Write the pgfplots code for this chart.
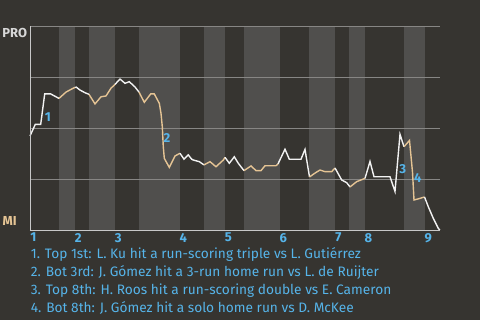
\documentclass[border=0pt]{standalone}
\usepackage{pgfplots}
\pgfplotsset{compat=1.18}
\usepackage{fontspec}
\setmainfont{Fira Sans}
\definecolor{bg}{RGB}{54,52,48}
\definecolor{band}{RGB}{80,79,77}
\definecolor{gridc}{RGB}{135,134,132}
\definecolor{axc}{RGB}{200,200,200}
\definecolor{tanl}{RGB}{229,196,148}
\definecolor{wl}{RGB}{242,242,242}
\definecolor{sky}{RGB}{86,180,233}
\definecolor{pro}{RGB}{215,215,215}
\begin{document}
\begin{tikzpicture}[x=1pt,y=1pt]
\fill[bg] (-30,-90) rectangle (450,230);
\path[use as bounding box] (-30,-90) rectangle (450,230);
\begin{axis}[scale only axis, width=410pt, height=204pt,
  xmin=0, xmax=410, ymin=0, ymax=100,
  axis x line=bottom, axis y line=left,
  axis line style={draw=axc, line width=0.8pt, -},
  axis on top,
  ytick=\empty,
  xtick={3.3,48.3,88.3,153.3,198.3,253.3,308.3,338.3,398.3},
  xticklabels={1,2,3,4,5,6,7,8,9},
  major tick length=0,
  xticklabel style={font=\bfseries\fontsize{13}{13}\selectfont, text=sky, inner sep=0pt, yshift=-3pt},
  clip=false]
% half-inning bands (bottom halves)
\addplot[fill=band, draw=none] coordinates {(29,0)(29,100)(45,100)(45,0)} --cycle;
\addplot[fill=band, draw=none] coordinates {(59,0)(59,100)(85,100)(85,0)} --cycle;
\addplot[fill=band, draw=none] coordinates {(109,0)(109,100)(150,100)(150,0)} --cycle;
\addplot[fill=band, draw=none] coordinates {(174,0)(174,100)(195,100)(195,0)} --cycle;
\addplot[fill=band, draw=none] coordinates {(214,0)(214,100)(250,100)(250,0)} --cycle;
\addplot[fill=band, draw=none] coordinates {(279,0)(279,100)(305,100)(305,0)} --cycle;
\addplot[fill=band, draw=none] coordinates {(319,0)(319,100)(335,100)(335,0)} --cycle;
\addplot[fill=band, draw=none] coordinates {(374,0)(374,100)(395,100)(395,0)} --cycle;
% grid lines
\addplot[gridc, line width=0.8pt] coordinates {(0,25)(410,25)};
\addplot[gridc, line width=0.8pt] coordinates {(0,50)(410,50)};
\addplot[gridc, line width=0.8pt] coordinates {(0,75)(410,75)};
\addplot[gridc, line width=0.8pt] coordinates {(0,100)(410,100)};
% win probability line: white = top halves, tan = bottom halves
\addplot[wl, line width=1.4pt] coordinates {(0,46.1)(5.3,51.8)(10.7,51.8)(14.7,66.7)(20.7,66.7)(29,64.5)};
\addplot[tanl, line width=1.4pt] coordinates {(29,64.5)(36,67.6)(41.3,69.0)(45,69.9)};
\addplot[wl, line width=1.4pt] coordinates {(45,69.9)(46.3,70.0)(50,68.6)(55,67.3)(59,66.5)};
\addplot[tanl, line width=1.4pt] coordinates {(59,66.5)(65,61.8)(71,65.3)(76,65.7)(81,69.5)(85,71.4)};
\addplot[wl, line width=1.4pt] coordinates {(85,71.4)(90,74.0)(95,71.9)(99.3,72.7)(105,70.1)(109,67.6)};
\addplot[tanl, line width=1.4pt] coordinates {(109,67.6)(114.3,62.6)(120.7,66.7)(124.3,66.7)(129.3,62.1)(131,57.2)(132.3,50.6)(133.3,40.8)(134.3,35.1)(139.3,30.7)(145,36.3)(150,37.6)};
\addplot[wl, line width=1.4pt] coordinates {(150,37.6)(154,34.7)(158.3,36.8)(161.7,34.7)(163.3,34.3)(169.3,33.5)(174,31.9)};
\addplot[tanl, line width=1.4pt] coordinates {(174,31.9)(180,33.5)(186,31.0)(193.3,34.3)(195,35.6)};
\addplot[wl, line width=1.4pt] coordinates {(195,35.6)(199.3,32.7)(204.3,35.9)(208.3,32.7)(214,29.1)};
\addplot[tanl, line width=1.4pt] coordinates {(214,29.1)(221,31.4)(226,29.1)(231,29.1)(235,31.5)(246,31.5)(248,32.4)};
\addplot[wl, line width=1.4pt] coordinates {(248,32.4)(255,39.6)(259.3,34.7)(271,34.7)(275,39.5)(279.5,26.0)};
\addplot[tanl, line width=1.4pt] coordinates {(279.5,26.0)(285,27.9)(290,29.4)(295,28.6)(301.7,28.6)(305,30.4)};
\addplot[wl, line width=1.4pt] coordinates {(305,30.4)(311.7,24.5)(316.7,23.2)(320,21.1)};
\addplot[tanl, line width=1.4pt] coordinates {(320,21.1)(326.7,23.7)(335,25.3)};
\addplot[wl, line width=1.4pt] coordinates {(335,25.3)(340,33.6)(344,26.1)(360,26.1)(365,18.9)(370,46.9)(374,40.8)};
\addplot[tanl, line width=1.4pt] coordinates {(374,40.8)(379.5,43.9)(382.5,28.4)(384,14.7)(390,15.5)(394.5,16.2)};
\addplot[wl, line width=1.4pt] coordinates {(394.5,16.2)(398.3,11.4)(403.3,5.7)(408.3,0.8)(410,0)};
% event markers
\node[text=sky, font=\bfseries\fontsize{13}{13}\selectfont, inner sep=0pt] at (axis cs:17.8,55.4) {1};
\node[text=sky, font=\bfseries\fontsize{13}{13}\selectfont, inner sep=0pt] at (axis cs:137,45.0) {2};
\node[text=sky, font=\bfseries\fontsize{13}{13}\selectfont, inner sep=0pt] at (axis cs:372.7,29.6) {3};
\node[text=sky, font=\bfseries\fontsize{13}{13}\selectfont, inner sep=0pt] at (axis cs:387.7,25.7) {4};
\end{axis}
\node[text=pro, font=\bfseries\fontsize{13}{13}\selectfont, inner sep=0pt] at (-15.3,197) {PRO};
\node[text=tanl, font=\bfseries\fontsize{13}{13}\selectfont, inner sep=0pt] at (-20.3,9) {MI};
\begin{scope}[every node/.style={anchor=base west, inner sep=0pt, text=sky, font=\fontsize{13.7}{13.7}\selectfont}]
\node at (0.7,-29) {1. Top 1st: L. Ku hit a run-scoring triple vs L. Gutiérrez};
\node at (0.7,-46.7) {2. Bot 3rd: J. Gómez hit a 3-run home run vs L. de Ruijter};
\node at (0.7,-64.3) {3. Top 8th: H. Roos hit a run-scoring double vs E. Cameron};
\node at (0.7,-82.3) {4. Bot 8th: J. Gómez hit a solo home run vs D. McKee};
\end{scope}
\end{tikzpicture}
\end{document}
